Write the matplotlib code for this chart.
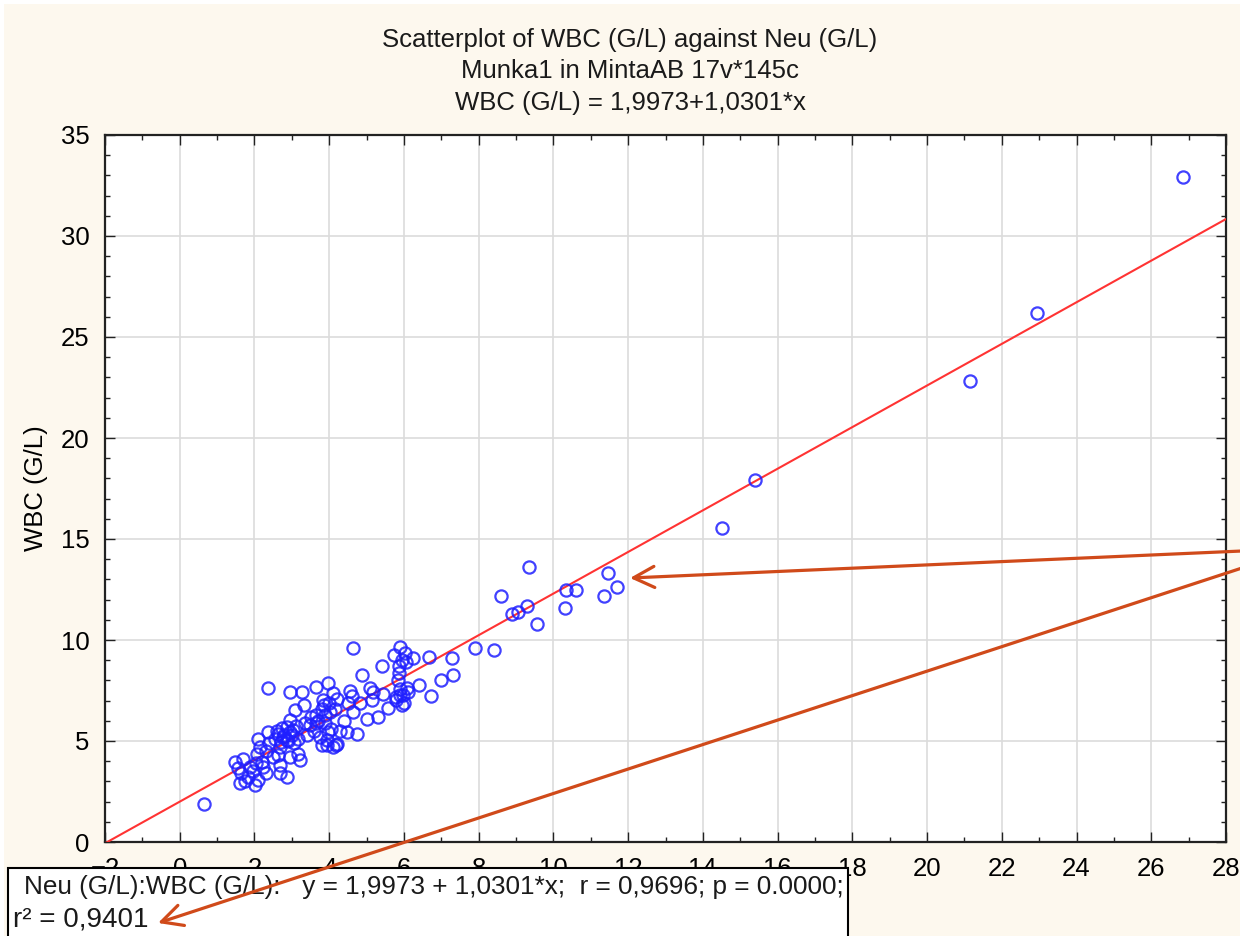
import matplotlib
matplotlib.use("Agg")
import matplotlib.pyplot as plt
import numpy as np
from matplotlib.patches import Rectangle, FancyArrowPatch
from matplotlib.ticker import MultipleLocator

plt.rcParams["font.family"] = ["Liberation Sans", "DejaVu Sans"]

# Munka1 / MintaAB: neutrophil count vs white blood cell count (G/L), 145 cases
neu = [0.65, 26.85, 22.95, 21.15, 15.4, 14.5, 11.45, 11.35, 11.7, 10.3,
       10.35, 10.6, 9.35, 9.3, 9.55, 8.6, 8.9, 9.05, 8.4, 7.9,
       7.28, 7.3, 7.0, 6.68, 6.72, 6.25, 6.4,
       4.63, 5.89, 5.73, 6.03, 5.4, 5.88, 5.87, 4.89, 6.09, 5.89,
       5.09, 4.56, 5.98, 5.79, 5.43, 5.18, 5.14, 4.82, 4.6, 5.58,
       5.31, 5.0, 4.64, 5.94, 4.47, 4.74, 3.93, 4.18,
       2.37, 2.95, 3.26, 3.66, 3.97, 4.11, 3.08, 3.32, 3.84, 4.02,
       3.66, 2.95, 2.37, 2.1, 2.64, 2.73, 2.86, 3.04, 2.77, 2.55,
       3.17, 3.48, 3.66, 3.75, 3.97, 3.8, 4.11, 2.15, 2.06, 2.19,
       2.23, 1.48, 1.7, 1.56, 1.88, 1.84, 1.61, 2.01, 2.1, 2.64,
       2.95, 3.17, 3.22, 2.68, 2.68, 2.86, 2.68, 2.86,
       2.8, 2.9, 3.0, 2.7, 3.1, 2.6, 2.95, 3.05,
       3.8, 3.9, 4.0, 4.15, 3.7, 3.9, 4.2, 3.85, 4.05, 3.6,
       5.9, 6.0, 6.1, 5.85, 6.05, 5.95, 5.8,
       4.2, 3.95, 4.3, 4.4, 4.5,
       2.3, 2.4, 2.5, 1.95, 2.05, 2.3, 1.75, 1.65,
       3.35, 3.5, 3.4]
wbc = [1.9, 32.9, 26.2, 22.8, 17.9, 15.55, 13.3, 12.2, 12.6, 11.6,
       12.5, 12.5, 13.6, 11.7, 10.8, 12.2, 11.3, 11.4, 9.5, 9.6,
       9.1, 8.25, 8.0, 9.15, 7.25, 9.1, 7.75,
       9.6, 9.67, 9.26, 9.35, 8.71, 8.71, 8.35, 8.27, 7.6, 7.57,
       7.6, 7.48, 7.27, 7.03, 7.33, 7.44, 7.03, 6.9, 7.23, 6.61,
       6.2, 6.07, 6.45, 6.78, 5.46, 5.35, 4.8, 4.8,
       7.6, 7.44, 7.44, 7.69, 7.85, 7.36, 6.53, 6.78, 7.03, 6.45,
       6.29, 6.04, 5.46, 5.12, 5.37, 5.62, 5.7, 5.54, 5.21, 5.12,
       5.12, 5.79, 5.87, 5.21, 5.46, 4.8, 4.71, 4.71, 4.38, 3.97,
       3.72, 3.97, 4.13, 3.64, 3.72, 3.23, 2.9, 2.82, 3.07, 4.31,
       4.22, 4.38, 4.06, 3.81, 3.4, 3.23, 4.71, 5.05,
       5.3, 5.0, 5.3, 4.95, 5.75, 5.5, 5.45, 4.9,
       6.6, 6.3, 6.9, 6.6, 6.0, 5.9, 7.1, 6.8, 5.6, 5.5,
       7.3, 6.9, 7.45, 8.0, 8.9, 9.0, 7.2,
       4.85, 5.05, 5.5, 6.0, 6.9,
       4.5, 4.9, 4.2, 3.5, 3.9, 3.4, 3.0, 3.4,
       5.9, 6.2, 5.3]

# fitted line WBC = a + b*Neu
intercept = 1.9973
slope = 1.0301

title_lines = ["Scatterplot of WBC (G/L) against Neu (G/L)",
               "Munka1 in MintaAB 17v*145c",
               "WBC (G/L) = 1,9973+1,0301*x"]
stats_line = "Neu (G/L):WBC (G/L):   y = 1,9973 + 1,0301*x;  r = 0,9696; p = 0.0000;"
r2_line = "r\u00b2 = 0,9401"

W, H = 1240, 936


def fx(px):
    return px / W


def fy(py):
    return 1 - py / H


fig = plt.figure(figsize=(W / 100, H / 100), dpi=100, facecolor="white")
# cream page behind the chart
fig.add_artist(Rectangle((fx(4), 0), 1, fy(4), transform=fig.transFigure,
                         facecolor="#fdf8ee", edgecolor="none", zorder=-10))

ax = fig.add_axes([fx(105), fy(842), fx(1226) - fx(105), fy(135) - fy(842)])
ax.set_facecolor("white")

xs = np.array([-2, 28])
ax.plot(xs, intercept + slope * xs, color="#ff3333", lw=1.5, zorder=3)
ax.plot(neu, wbc, "o", ms=8.8, mfc="none", mec="#1f1fff", mew=1.6,
        alpha=0.85, zorder=4)

ax.set_xlim(-2, 28)
ax.set_ylim(0, 35)
ax.xaxis.set_major_locator(MultipleLocator(2))
ax.xaxis.set_minor_locator(MultipleLocator(1))
ax.yaxis.set_major_locator(MultipleLocator(5))
ax.yaxis.set_minor_locator(MultipleLocator(1))
ax.grid(True, which="major", color="#dcdcdc", lw=1.2, zorder=0)
ax.set_axisbelow(True)
ax.tick_params(which="both", direction="in", top=True, right=True,
               labelsize=18.5, width=1.0, color="#222222")
ax.tick_params(which="major", length=7)
ax.tick_params(which="minor", length=3.5)
ax.tick_params(axis="x", pad=11)
ax.tick_params(axis="y", pad=11)
for sp in ax.spines.values():
    sp.set_linewidth(1.6)
    sp.set_color("#222222")

ax.set_ylabel("WBC (G/L)", fontsize=18.5, labelpad=9)

for i, line in enumerate(title_lines):
    fig.text(fx(630), fy(40 + 31.5 * i), line, ha="center", va="center",
             fontsize=18.5, color="#1a1a1a")

# statistics box at the bottom left, drawn over the x tick labels
fig.add_artist(Rectangle((fx(8), fy(945)), fx(848) - fx(8), fy(868) - fy(945),
                         transform=fig.transFigure, facecolor="white",
                         edgecolor="black", lw=1.5, zorder=5))
fig.text(fx(24), fy(887), stats_line, ha="left", va="center", fontsize=18.8,
         color="#1a1a1a", zorder=6)
fig.text(fx(13), fy(919), r2_line, ha="left", va="center", fontsize=20,
         color="#1a1a1a", zorder=6)

# arrows pointing at the highlighted points and r-squared
arrow_color = "#d04a1a"
for start, end in [((1242, 551), (630, 578)), ((1242, 568), (158, 923))]:
    fig.add_artist(FancyArrowPatch((fx(start[0]), fy(start[1])),
                                   (fx(end[0]), fy(end[1])),
                                   transform=fig.transFigure,
                                   arrowstyle="->,head_length=0.75,head_width=0.38",
                                   mutation_scale=20, color=arrow_color,
                                   lw=2.3, zorder=7, shrinkA=0, shrinkB=0))

fig.savefig("out.png", dpi=100, facecolor=fig.get_facecolor())
